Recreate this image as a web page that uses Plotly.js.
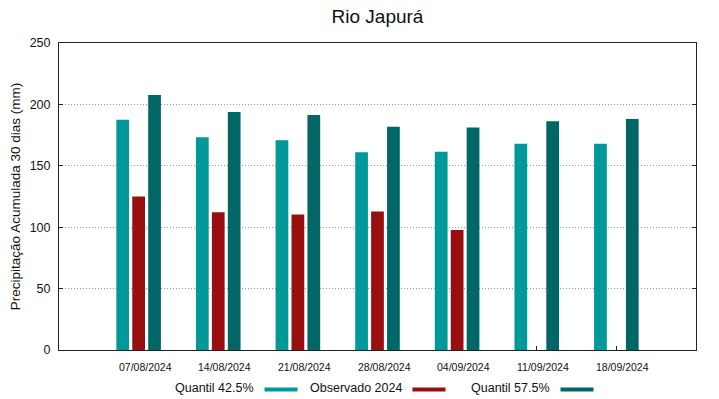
<!DOCTYPE html>
<html>
<head>
<meta charset="utf-8">
<script src="https://cdn.plot.ly/plotly-3.0.1.min.js"></script>
<style>html,body{margin:0;padding:0;background:#fff}#chart{width:719px;height:399px}</style>
</head>
<body>
<div id="chart"></div>
<script>
const categories = ["07/08/2024","14/08/2024","21/08/2024","28/08/2024","04/09/2024","11/09/2024","18/09/2024"];
const quantil425 = [187.5, 173.3, 170.8, 161.0, 161.5, 168.0, 168.0];
const observado2024 = [125.0, 112.2, 110.3, 112.7, 97.8, null, null];
const quantil575 = [207.6, 193.9, 191.4, 181.7, 181.1, 186.3, 188.2];
const seriesNames = ["Quantil 42.5%", "Observado 2024", "Quantil 57.5%"];
const seriesColors = ["#009999", "#990f0f", "#006666"];
const yTicks = [0, 50, 100, 150, 200, 250];

const font = "Liberation Sans, Arial, sans-serif";
const seriesData = [quantil425, observado2024, quantil575];
const traces = seriesData.map((vals, i) => ({
  type: "bar", x: categories, y: vals, name: seriesNames[i],
  marker: {color: seriesColors[i], line: {width: 0}}, showlegend: false, hoverinfo: "skip"
}));

const W = 719, H = 399, L = 59, R = 23, T = 43, B = 49;
const pw = W - L - R, ph = H - T - B;
const px2x = p => (p - L) / pw;
const py2y = p => (H - B - p) / ph;
const annotations = [], shapes = [];

// x tick labels (gnuplot draws them slightly right of the group centre)
categories.forEach(c => {
  annotations.push({xref: "x", yref: "paper", x: c, y: 0, xshift: 6.5, yshift: -16.5,
    xanchor: "center", yanchor: "middle", text: c, showarrow: false,
    font: {family: font, size: 10.5, color: "#111"}});
});

// manual legend (text left of swatch, gnuplot style)
const legendTextRight = [256, 404, 552];
const legendY = 387.5;
seriesNames.forEach((n, i) => {
  annotations.push({xref: "paper", yref: "paper", x: px2x(legendTextRight[i]), y: py2y(legendY),
    xanchor: "right", yanchor: "middle", text: n, showarrow: false,
    font: {family: font, size: 12.5, color: "#111"}});
  shapes.push({type: "line", xref: "paper", yref: "paper",
    x0: px2x(legendTextRight[i] + 8.5), x1: px2x(legendTextRight[i] + 41.5),
    y0: py2y(legendY + 2), y1: py2y(legendY + 2),
    line: {color: seriesColors[i], width: 4}});
});

const layout = {
  width: W, height: H,
  margin: {l: L, r: R, t: T, b: B},
  paper_bgcolor: "#fff", plot_bgcolor: "#fff",
  font: {family: font, color: "#111"},
  title: {text: "Rio Japurá", font: {family: font, size: 19, color: "#111"},
    x: 0.5, xref: "paper", xanchor: "center", y: 1 - 16 / H, yanchor: "middle"},
  barmode: "group", bargap: 0.4, bargroupgap: 0.2,
  xaxis: {type: "category", range: [-1, 7], showgrid: false, zeroline: false,
    showline: true, linecolor: "#222", linewidth: 1, mirror: true,
    ticks: "inside", ticklen: 4, tickcolor: "#222", layer: "below traces",
    showticklabels: false},
  yaxis: {range: [0, 250], tickvals: yTicks, ticktext: yTicks.map(String),
    showgrid: true, gridcolor: "#9a9a9a", griddash: "1px,2px", gridwidth: 1,
    zeroline: false, showline: true, linecolor: "#222", linewidth: 1, mirror: "ticks",
    ticks: "inside", ticklen: 4, tickcolor: "#222",
    tickfont: {family: font, size: 12.5, color: "#111"}, ticklabelstandoff: 5,
    title: {text: "Precipitação Acumulada 30 dias (mm)", font: {family: font, size: 13.5, color: "#111"}, standoff: 5}},
  annotations: annotations, shapes: shapes
};
Plotly.newPlot("chart", traces, layout, {displayModeBar: false, staticPlot: true});
</script>
</body>
</html>
